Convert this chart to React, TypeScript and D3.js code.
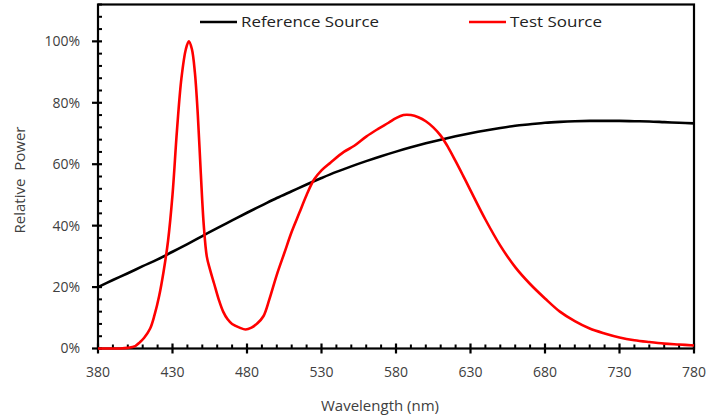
import { useEffect, useRef } from 'react'
import * as d3 from 'd3'

// Reference source (black), read every 10 nm
const refWavelengths = [380, 390, 400, 410, 420, 430, 440, 450, 460, 470, 480, 490, 500, 510, 520, 530, 540, 550, 560, 570, 580, 590, 600, 610, 620, 630, 640, 650, 660, 670, 680, 690, 700, 710, 720, 730, 740, 750, 760, 770, 780]
const refPower = [20, 22.3, 24.5, 26.8, 29, 31.5, 34, 36.6, 39.2, 41.7, 44.2, 46.6, 49, 51.2, 53.4, 55.5, 57.5, 59.3, 61, 62.6, 64.1, 65.5, 66.8, 68, 69.1, 70.1, 71, 71.8, 72.5, 73, 73.5, 73.8, 74, 74.1, 74.1, 74.1, 74, 73.9, 73.7, 73.5, 73.3]

// Test source (red)
const testWavelengths = [380, 390, 395, 400, 405, 408, 411, 415, 418, 421, 424, 427, 430, 433, 436, 439, 441, 443, 445, 447, 449, 451, 453, 455, 458, 461, 464, 467, 470, 475, 479, 483, 487, 491, 495, 500, 505, 510, 515, 520, 525, 530, 536, 545, 552, 560, 568, 575, 580, 585, 590, 595, 600, 605, 610, 615, 620, 625, 630, 640, 650, 660, 670, 680, 690, 700, 710, 720, 730, 740, 750, 760, 770, 780]
const testPower = [0, 0, 0, 0.2, 0.8, 2, 3.5, 6.5, 11, 17, 25, 35, 50, 71, 88, 97.5, 100, 97.5, 90, 76, 57, 40, 30, 26, 21, 16, 12, 9.5, 8, 6.8, 6.2, 6.8, 8.2, 10.5, 16, 24, 31, 38, 44, 50, 55, 58, 60.5, 64, 66, 69, 71.5, 73.5, 75, 76, 76, 75.3, 74, 72, 69.3, 65.5, 61, 56.3, 51.5, 42, 33.5, 26.5, 21, 16.3, 12, 8.9, 6.5, 4.9, 3.6, 2.7, 2.1, 1.6, 1.3, 1]

const xTicks = [380, 430, 480, 530, 580, 630, 680, 730, 780]
const yTicks = [0, 20, 40, 60, 80, 100]

const seriesNames = ['Reference Source', 'Test Source']
const seriesColors = ['#000000', '#ff0000']

export default function App() {
  const svgRef = useRef<SVGSVGElement>(null)

  useEffect(() => {
    if (!svgRef.current) return
    const svg = d3.select(svgRef.current)
    svg.selectAll('*').remove()

    const left = 98
    const right = 694
    const top = 4.5
    const bottom = 348.5
    const font = '"Open Sans", sans-serif'

    const x = d3.scaleLinear().domain([380, 780]).range([left, right])
    const y = d3.scaleLinear().domain([0, 112]).range([bottom, top])

    const g = svg.append('g')

    // frame
    g.append('rect')
      .attr('x', left)
      .attr('y', top)
      .attr('width', right - left)
      .attr('height', bottom - top)
      .attr('fill', 'white')
      .attr('stroke', '#000')
      .attr('stroke-width', 2.2)

    // y minor ticks every 4%
    const yMinor = d3.range(0, 113, 4).filter(v => v % 20 !== 0)
    g.selectAll('.ymin')
      .data(yMinor)
      .join('line')
      .attr('x1', left)
      .attr('x2', left + 4)
      .attr('y1', d => y(d))
      .attr('y2', d => y(d))
      .attr('stroke', '#000')
      .attr('stroke-width', 2)

    g.selectAll('.ymaj')
      .data(yTicks)
      .join('line')
      .attr('x1', left - 6)
      .attr('x2', left + 4)
      .attr('y1', d => y(d))
      .attr('y2', d => y(d))
      .attr('stroke', '#000')
      .attr('stroke-width', 2.2)

    g.selectAll('.ylab')
      .data(yTicks)
      .join('text')
      .attr('x', left - 18)
      .attr('y', d => y(d))
      .attr('dy', '0.35em')
      .attr('text-anchor', 'end')
      .attr('font-family', font)
      .attr('font-size', 14)
      .attr('fill', '#404040')
      .text(d => `${d}%`)

    // x minor ticks every 10 nm
    const xMinor = d3.range(390, 780, 10).filter(v => (v - 380) % 50 !== 0)
    g.selectAll('.xmin')
      .data(xMinor)
      .join('line')
      .attr('x1', d => x(d))
      .attr('x2', d => x(d))
      .attr('y1', bottom)
      .attr('y2', bottom - 4)
      .attr('stroke', '#000')
      .attr('stroke-width', 2)

    g.selectAll('.xmaj')
      .data(xTicks)
      .join('line')
      .attr('x1', d => x(d))
      .attr('x2', d => x(d))
      .attr('y1', bottom + 5)
      .attr('y2', bottom - 5)
      .attr('stroke', '#000')
      .attr('stroke-width', 2.2)

    g.selectAll('.xlab')
      .data(xTicks)
      .join('text')
      .attr('x', d => x(d))
      .attr('y', bottom + 24)
      .attr('dy', '0.35em')
      .attr('text-anchor', 'middle')
      .attr('font-family', font)
      .attr('font-size', 14)
      .attr('fill', '#404040')
      .text(d => d)

    // axis titles
    g.append('text')
      .attr('x', 380)
      .attr('y', 406)
      .attr('dy', '0.35em')
      .attr('text-anchor', 'middle')
      .attr('font-family', font)
      .attr('font-size', 15)
      .attr('fill', '#404040')
      .text('Wavelength (nm)')

    g.append('text')
      .attr('transform', `translate(20,180) rotate(-90)`)
      .attr('dy', '0.35em')
      .attr('text-anchor', 'middle')
      .attr('font-family', font)
      .attr('font-size', 15)
      .attr('fill', '#404040')
      .style('white-space', 'pre')
      .text('Relative  Power')

    const line = d3.line<[number, number]>()
      .x(d => x(d[0]))
      .y(d => y(Math.max(0, d[1])))
      .curve(d3.curveCatmullRom.alpha(0.5))

    const refData = refWavelengths.map((w, i) => [w, refPower[i]] as [number, number])
    const testData = testWavelengths.map((w, i) => [w, testPower[i]] as [number, number])

    g.append('path')
      .attr('d', line(refData))
      .attr('fill', 'none')
      .attr('stroke', seriesColors[0])
      .attr('stroke-width', 2.6)

    g.append('path')
      .attr('d', line(testData))
      .attr('fill', 'none')
      .attr('stroke', seriesColors[1])
      .attr('stroke-width', 2.6)

    // legend
    const legendX = [200, 469]
    const textWidths = [138, 92]
    seriesNames.forEach((name, i) => {
      g.append('line')
        .attr('x1', legendX[i])
        .attr('x2', legendX[i] + 37)
        .attr('y1', 22)
        .attr('y2', 22)
        .attr('stroke', seriesColors[i])
        .attr('stroke-width', 2.6)
      g.append('text')
        .attr('x', legendX[i] + 41)
        .attr('y', 22)
        .attr('dy', '0.35em')
        .attr('font-family', font)
        .attr('font-size', 15)
        .attr('fill', '#222')
        .attr('textLength', textWidths[i])
        .attr('lengthAdjust', 'spacingAndGlyphs')
        .text(name)
    })
  }, [])

  return (
    <svg
      ref={svgRef}
      width={726}
      height={419}
      style={{ position: 'absolute', left: 0, top: 0, background: '#fff' }}
    />
  )
}
